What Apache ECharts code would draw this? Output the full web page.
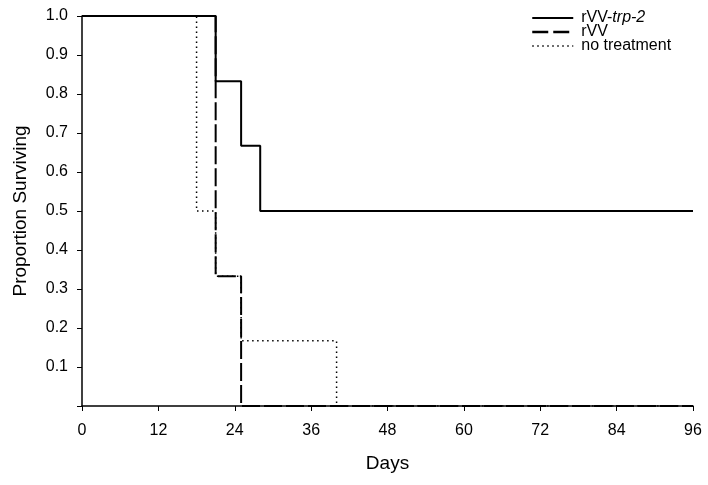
<!DOCTYPE html>
<html>
<head>
<meta charset="utf-8">
<script src="https://cdn.jsdelivr.net/npm/echarts@6/dist/echarts.min.js"></script>
<style>html,body{margin:0;padding:0;background:#fff}#c{width:708px;height:485px}</style>
</head>
<body>
<div id="c"></div>
<script>
// Kaplan-Meier survival data (event days and proportion surviving after each event)
const seriesNames = ['rVV-trp-2', 'rVV', 'no treatment'];
const trpDays = [0, 21, 25, 28, 96];
const trpSurv = [1.0, 0.833, 0.667, 0.5, 0.5];
const rvvDays = [0, 21, 25, 96];
const rvvSurv = [1.0, 0.333, 0.0, 0.0];
const noTxDays = [0, 18, 21, 25, 40, 96];
const noTxSurv = [1.0, 0.5, 0.333, 0.167, 0.0, 0.0];
const xTicks = [0, 12, 24, 36, 48, 60, 72, 84, 96];
const yTicks = [0.1, 0.2, 0.3, 0.4, 0.5, 0.6, 0.7, 0.8, 0.9, 1.0];

function pairs(d, s) { return d.map((x, i) => [x, s[i]]); }

const dashStyle = [16, 5];
const dotStyle = [1.5, 3.5];

const chart = echarts.init(document.getElementById('c'), null, {renderer: 'canvas'});
const font = 'Arial, "Liberation Sans", sans-serif';
chart.setOption({
  animation: false,
  backgroundColor: '#fff',
  grid: {left: 82, right: 15, top: 16, bottom: 79, containLabel: false},
  legend: {
    orient: 'vertical', left: 526, top: 5, itemGap: -2, itemWidth: 41, itemHeight: 10,
    itemStyle: {opacity: 0},
    textStyle: {fontFamily: font, fontSize: 16, color: '#000', lineHeight: 14, padding: [0, 0, 0, 3],
      rich: {i: {fontStyle: 'italic', fontFamily: font, fontSize: 16, color: '#000', lineHeight: 14}}},
    formatter: n => n === 'rVV-trp-2' ? 'rVV-{i|trp-2}' : n,
    data: [
      {name: seriesNames[0], lineStyle: {color: '#000', width: 2, type: 'solid'}},
      {name: seriesNames[1], lineStyle: {color: '#000', width: 2.5, type: dashStyle}},
      {name: seriesNames[2], lineStyle: {color: '#000', width: 1.5, type: dotStyle}}
    ]
  },
  xAxis: {
    type: 'value', min: 0, max: 96, interval: 12,
    name: 'Days', nameLocation: 'middle', nameGap: 48,
    nameTextStyle: {fontFamily: font, fontSize: 19, color: '#000'},
    axisLine: {lineStyle: {color: '#000', width: 1.5}},
    axisTick: {show: true, length: 5, lineStyle: {color: '#000'}},
    axisLabel: {fontFamily: font, fontSize: 16, color: '#000', margin: 17},
    splitLine: {show: false}
  },
  yAxis: {
    type: 'value', min: 0, max: 1, interval: 0.1,
    name: 'Proportion Surviving', nameLocation: 'middle', nameGap: 52,
    nameTextStyle: {fontFamily: font, fontSize: 19, color: '#000'},
    axisLine: {show: true, lineStyle: {color: '#000', width: 1.5}},
    axisTick: {show: true, length: 5, lineStyle: {color: '#000'}},
    axisLabel: {fontFamily: font, fontSize: 16, color: '#000', margin: 14,
      formatter: v => (yTicks.some(t => Math.abs(t - v) < 1e-6) ? v.toFixed(1) : '')},
    splitLine: {show: false}
  },
  series: [
    {name: seriesNames[2], type: 'line', step: 'end', showSymbol: false, symbol: 'none', z: 2,
     data: pairs(noTxDays, noTxSurv),
     lineStyle: {color: '#000', width: 1.5, type: dotStyle}},
    {name: seriesNames[1], type: 'line', step: 'end', showSymbol: false, symbol: 'none', z: 3,
     data: pairs(rvvDays, rvvSurv),
     lineStyle: {color: '#000', width: 2, type: [18, 4]}},
    {name: seriesNames[0], type: 'line', step: 'end', showSymbol: false, symbol: 'none', z: 4,
     data: pairs(trpDays, trpSurv),
     lineStyle: {color: '#000', width: 2, type: 'solid'}}
  ]
});
</script>
</body>
</html>
